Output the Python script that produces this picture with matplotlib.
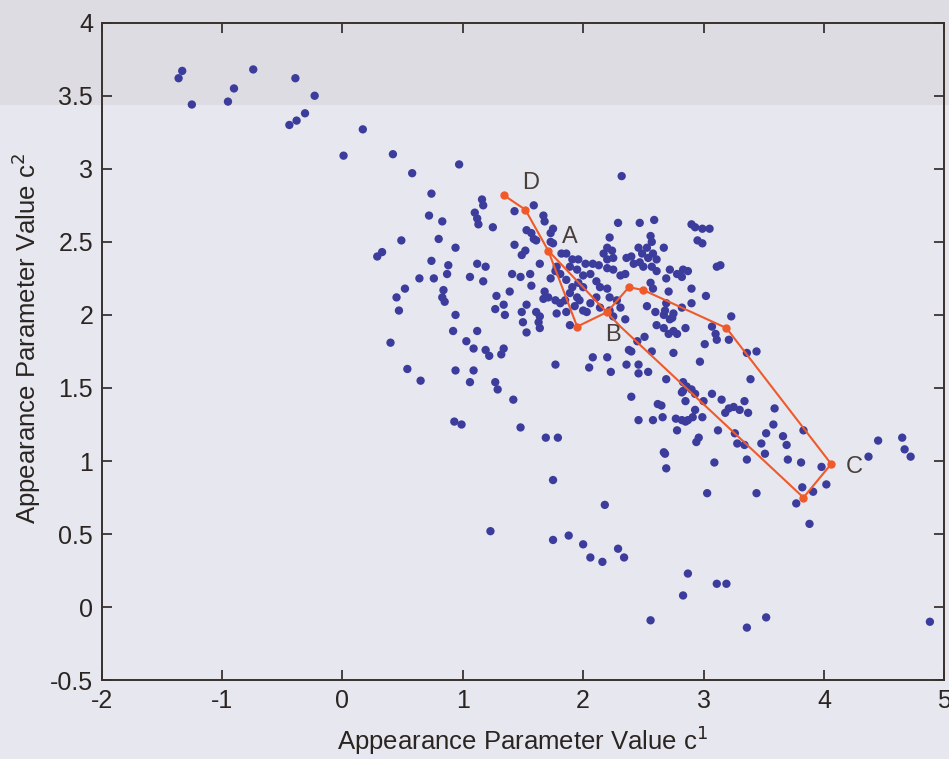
import matplotlib
matplotlib.use("Agg")
import matplotlib.pyplot as plt
from matplotlib.patches import Rectangle

plt.rcParams['font.family'] = ['Liberation Sans', 'DejaVu Sans']
plt.rcParams['axes.unicode_minus'] = False

# ---- scatter data: appearance parameters c1 (x) and c2 (y) ----
c1 = [
    -1.36, -1.33, -1.25, -0.95, -0.90, -0.74, -0.39, -0.23, -0.31, -0.38, -0.44, 0.17, 0.01, 0.42,
    0.97, 0.58, 0.74, 1.16, 1.17, 1.10, 1.12, 1.13, 0.72, 0.83, 1.25, 1.43, 1.53, 0.49, 0.80, 0.94,
    0.33, 0.29, 1.43, 1.49, 0.74, 0.88, 0.87, 1.12, 1.19, 1.06, 1.17, 0.64, 0.76, 1.41, 1.48, 0.52,
    0.45, 0.84, 0.83, 0.85, 0.47, 0.94, 1.39, 1.28, 1.34, 1.27, 1.53, 1.49, 1.35, 0.92, 1.50, 1.53,
    1.12, 0.40, 1.03, 1.09, 1.19, 1.22, 1.34, 1.32, 0.54, 0.65, 0.94, 1.09, 1.06, 1.27, 1.29, 1.42,
    0.93, 0.99, 1.48, 1.69, 1.79, 1.77, 2.08, 2.20, 2.05, 2.23, 2.36, 2.46, 2.46, 2.54, 2.40, 2.46,
    1.75, 2.18, 1.23, 1.75, 1.88, 2.00, 2.06, 2.16, 2.29, 2.34, 2.56, 1.63, 1.64, 1.61, 1.89, 2.38,
    2.40, 2.51, 2.45, 2.57, 2.53, 2.60, 2.67, 2.69, 2.61, 2.67, 2.75, 2.78, 2.85, 2.90, 2.75, 2.69,
    2.83, 2.86, 2.90, 2.93, 2.85, 2.93, 2.91, 2.62, 2.65, 2.58, 2.66, 2.77, 2.82, 2.85, 2.87, 2.78,
    2.94, 2.67, 2.68, 2.69, 2.68, 2.74, 2.71, 3.23, 3.07, 3.10, 3.11, 3.21, 3.01, 2.97, 3.36, 3.44,
    3.39, 2.83, 2.82, 3.07, 3.00, 2.99, 3.15, 3.21, 3.25, 3.30, 3.18, 3.34, 3.37, 3.59, 3.12, 3.58,
    3.26, 3.28, 3.34, 3.52, 3.48, 3.66, 3.69, 3.83, 2.96, 3.51, 3.36, 3.09, 3.70, 3.81, 3.98, 3.03,
    3.44, 3.82, 3.91, 4.02, 3.77, 3.88, 4.37, 4.45, 4.65, 4.67, 4.72, 2.87, 3.11, 3.19, 2.83, 3.52,
    3.36, 4.88, 2.32, 1.59, 1.67, 1.68, 1.75, 1.73, 1.57, 1.59, 1.61, 1.73, 1.75, 2.29, 2.47, 2.59,
    2.90, 2.93, 2.99, 3.05, 2.95, 2.99, 2.22, 2.56, 2.57, 2.20, 2.24, 2.17, 2.46, 2.49, 2.53, 2.67,
    2.54, 2.58, 2.61, 1.52, 1.82, 1.86, 1.64, 1.91, 1.96, 2.02, 2.08, 2.13, 2.20, 2.25, 2.36, 2.40,
    2.42, 2.47, 2.50, 1.78, 1.81, 1.77, 1.89, 1.95, 2.00, 2.06, 2.20, 2.25, 2.31, 2.35, 2.57, 2.61,
    2.72, 2.78, 2.83, 2.87, 2.82, 2.69, 1.56, 1.73, 1.57, 1.86, 1.91, 1.96, 2.00, 2.11, 2.14, 2.20,
    2.56, 2.58, 2.71, 1.68, 1.71, 1.67, 1.77, 1.81, 1.85, 1.89, 1.95, 1.97, 2.06, 2.11, 2.22, 2.28,
    2.00, 2.03, 1.93, 1.86, 1.64, 1.78, 2.31, 2.35, 2.25, 2.90, 2.82, 2.75, 3.02, 3.11, 3.14, 2.72,
    2.14, 2.22,
]
c2 = [
    3.62, 3.67, 3.44, 3.46, 3.55, 3.68, 3.62, 3.50, 3.38, 3.33, 3.30, 3.27, 3.09, 3.10,
    3.03, 2.97, 2.83, 2.79, 2.75, 2.70, 2.66, 2.62, 2.68, 2.64, 2.60, 2.71, 2.58, 2.51, 2.52, 2.46,
    2.43, 2.40, 2.48, 2.41, 2.37, 2.34, 2.28, 2.35, 2.33, 2.26, 2.23, 2.25, 2.25, 2.28, 2.26, 2.18,
    2.12, 2.17, 2.12, 2.09, 2.03, 2.00, 2.16, 2.13, 2.07, 2.04, 2.07, 2.02, 2.00, 1.89, 1.95, 1.88,
    1.89, 1.81, 1.82, 1.77, 1.76, 1.72, 1.77, 1.73, 1.63, 1.55, 1.62, 1.62, 1.54, 1.54, 1.49, 1.42,
    1.27, 1.25, 1.23, 1.16, 1.16, 1.66, 1.71, 1.71, 1.64, 1.61, 1.66, 1.66, 1.60, 1.61, 1.44, 1.28,
    0.87, 0.70, 0.52, 0.46, 0.49, 0.43, 0.34, 0.31, 0.40, 0.34, -0.09, 1.95, 1.91, 2.02, 1.93, 1.76,
    1.75, 1.85, 1.82, 1.75, 2.06, 2.02, 2.00, 2.08, 1.93, 1.91, 1.89, 1.87, 1.91, 2.08, 1.74, 1.56,
    1.48, 1.51, 1.49, 1.46, 1.41, 1.35, 1.30, 1.39, 1.38, 1.28, 1.30, 1.29, 1.28, 1.27, 1.28, 1.21,
    1.13, 1.06, 1.05, 0.95, 2.03, 1.98, 1.87, 1.99, 1.92, 1.87, 1.83, 1.83, 1.80, 1.68, 1.74, 1.75,
    1.56, 1.54, 1.47, 1.46, 1.41, 1.30, 1.42, 1.36, 1.37, 1.35, 1.33, 1.41, 1.33, 1.36, 1.21, 1.25,
    1.19, 1.12, 1.11, 1.19, 1.12, 1.17, 1.11, 1.21, 1.16, 1.05, 1.01, 0.99, 1.01, 0.99, 0.96, 0.78,
    0.78, 0.82, 0.79, 0.84, 0.71, 0.57, 1.03, 1.14, 1.16, 1.08, 1.03, 0.23, 0.16, 0.16, 0.08, -0.07,
    -0.14, -0.10, 2.95, 2.75, 2.68, 2.64, 2.59, 2.56, 2.56, 2.52, 2.51, 2.50, 2.49, 2.63, 2.63, 2.65,
    2.62, 2.60, 2.59, 2.59, 2.51, 2.49, 2.53, 2.54, 2.50, 2.46, 2.44, 2.42, 2.46, 2.42, 2.46, 2.46,
    2.39, 2.42, 2.38, 2.44, 2.42, 2.42, 2.35, 2.38, 2.38, 2.35, 2.35, 2.34, 2.38, 2.39, 2.39, 2.40,
    2.35, 2.36, 2.33, 2.33, 2.28, 2.30, 2.33, 2.31, 2.27, 2.28, 2.32, 2.31, 2.27, 2.28, 2.33, 2.30,
    2.31, 2.28, 2.31, 2.30, 2.26, 2.25, 2.28, 2.25, 2.20, 2.24, 2.19, 2.22, 2.19, 2.23, 2.19, 2.18,
    2.22, 2.18, 2.16, 2.16, 2.12, 2.11, 2.10, 2.08, 2.10, 2.15, 2.12, 2.10, 2.08, 2.12, 2.12, 2.10,
    2.03, 2.02, 2.06, 2.02, 1.99, 2.01, 2.05, 1.97, 1.99, 2.18, 2.05, 2.01, 2.13, 2.33, 2.34, 1.97,
    2.05, 2.03,
]

# ---- trajectory through the parameter space ----
path_c1 = [1.34, 1.52, 1.71, 1.95, 2.20, 2.38, 2.50, 3.19, 4.06, 3.83, 2.31, 1.71]
path_c2 = [2.82, 2.72, 2.44, 1.92, 2.02, 2.19, 2.17, 1.91, 0.98, 0.75, 1.92, 2.44]
marker_c1 = [1.34, 1.52, 1.71, 1.95, 2.20, 2.38, 2.50, 3.19, 4.06, 3.83]
marker_c2 = [2.82, 2.72, 2.44, 1.92, 2.02, 2.19, 2.17, 1.91, 0.98, 0.75]

labels = ['D', 'A', 'B', 'C']
label_c1 = [1.56, 1.89, 2.25, 4.25]
label_c2 = [2.90, 2.53, 1.86, 0.96]

xticks = [-2, -1, 0, 1, 2, 3, 4, 5]
yticks = [-0.5, 0, 0.5, 1, 1.5, 2, 2.5, 3, 3.5, 4]
ytick_labels = ['-0.5', '0', '0.5', '1', '1.5', '2', '2.5', '3', '3.5', '4']

bg = '#e7e7ef'
fig = plt.figure(figsize=(9.49, 7.59), dpi=100, facecolor=bg)
# scanned page: greyer band at the top (behind the axes)
fig.patches.append(Rectangle((0, 0.862), 1, 0.138, transform=fig.transFigure,
                             facecolor='#dcdce2', edgecolor='none', zorder=-5))

ax = fig.add_axes([0.1070, 0.1038, 0.8881, 0.8663])
ax.set_facecolor('none')

ax.scatter(c1, c2, s=36, color='#3c3c9c', edgecolors='none', zorder=3)
ax.plot(path_c1, path_c2, color='#ef5a2a', lw=1.5, zorder=4)
ax.plot(marker_c1, marker_c2, ls='none', marker='o', ms=5, color='#ef5a2a', zorder=5)

for t, x, y in zip(labels, label_c1, label_c2):
    ax.text(x, y, t, fontsize=17, color='#4a3e3a', ha='center', va='center', zorder=6)

ax.set_xlim(-2, 5)
ax.set_ylim(-0.5, 4)
ax.set_xticks(xticks)
ax.set_yticks(yticks)
ax.set_yticklabels(ytick_labels)
ax.tick_params(direction='in', length=7, width=1.2, top=True, right=True,
               labelsize=18, colors='#2b2522', pad=6)
for s in ax.spines.values():
    s.set_color('#3a302c')
    s.set_linewidth(1.4)

ax.set_xlabel('Appearance Parameter Value c$^1$', fontsize=18.5, color='#2b2522', labelpad=8)
ax.set_ylabel('Appearance Parameter Value c$^2$', fontsize=18.5, color='#2b2522', labelpad=4)
ax.yaxis.set_label_coords(-0.07, 0.52)

fig.savefig('out.png', dpi=100, facecolor=bg)
